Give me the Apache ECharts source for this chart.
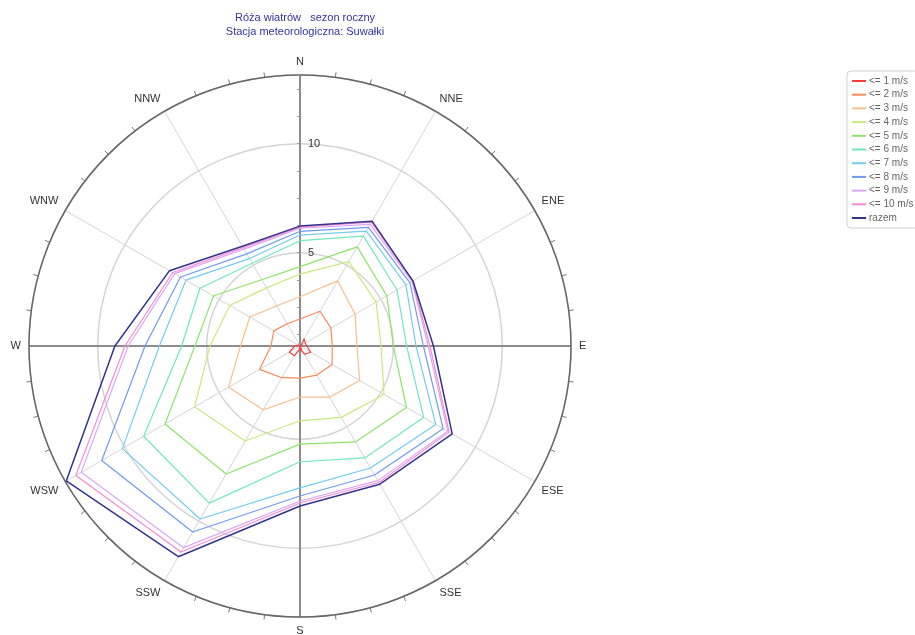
<!DOCTYPE html>
<html><head><meta charset="utf-8">
<script src="https://cdn.jsdelivr.net/npm/echarts@6/dist/echarts.min.js"></script>
<style>html,body{margin:0;padding:0;background:#fff}#c{width:915px;height:635px}</style>
</head><body><div id="c"></div>
<script>
const titleLine1 = 'Róża wiatrów   sezon roczny';
const titleLine2 = 'Stacja meteorologiczna: Suwałki';
const directions = ['N','NNE','ENE','E','ESE','SSE','S','SSW','WSW','W','WNW','NNW'];
const radialTicks = [5, 10];
const seriesNames = ['<= 1 m/s','<= 2 m/s','<= 3 m/s','<= 4 m/s','<= 5 m/s','<= 6 m/s','<= 7 m/s','<= 8 m/s','<= 9 m/s','<= 10 m/s','razem'];
const v1  = [0.6, 1.1, 1.0, 1.03, 1.29, 1.16, 0.85, 1.23, 1.29, 0.95, 0.8, 0.55];
const v2  = [1.96, 2.56, 2.36, 2.2, 2.42, 2.26, 2.19, 2.4, 2.86, 2.05, 2.11, 1.9];
const v3  = [2.98, 4.17, 3.64, 3.33, 3.88, 3.43, 3.06, 4.1, 4.5, 3.45, 3.38, 2.85];
const v4  = [4.02, 5.19, 4.75, 4.44, 5.17, 4.5, 4.15, 5.75, 6.3, 4.85, 4.44, 3.8];
const v5  = [4.36, 5.97, 5.32, 5.0, 6.36, 5.8, 5.22, 7.5, 7.87, 5.54, 5.31, 4.23];
const v6  = [5.55, 6.54, 5.86, 5.61, 7.27, 6.65, 6.03, 9.04, 9.0, 6.15, 6.02, 5.1];
const v7  = [5.81, 6.8, 6.33, 6.04, 7.91, 7.18, 7.23, 9.88, 10.13, 7.17, 6.76, 5.35];
const v8  = [5.98, 7.0, 6.54, 6.38, 8.3, 7.55, 7.6, 10.57, 11.22, 7.83, 7.05, 5.6];
const v9  = [6.12, 7.16, 6.65, 6.6, 8.55, 7.85, 7.83, 11.4, 12.31, 8.6, 7.36, 5.85];
const v10 = [6.17, 7.28, 6.68, 6.68, 8.62, 7.95, 7.92, 11.63, 12.59, 8.75, 7.46, 5.93];
const vAll= [6.22, 7.33, 6.70, 6.84, 8.78, 8.04, 8.06, 11.88, 13.1, 9.21, 7.63, 6.0];
const seriesValues = [v1,v2,v3,v4,v5,v6,v7,v8,v9,v10,vAll];
const colors = ['#ff3b3b','#f78a5a','#f7bf8c','#c6ea7e','#8ee46a','#6fe8bf','#72cdf0','#6f9af0','#dba6f7','#f58ad0','#33338f'];
const rMin = 0.72, rMax = 13.15;

const step = 360 / directions.length;
function toPolar(vals){
  const pts = vals.map((v,i)=>[v, i*step]);
  pts.push([vals[0], 360]);
  return pts;
}
const chart = echarts.init(document.getElementById('c'));
const font = 'Arial, "Liberation Sans", sans-serif';
chart.setOption({
  animation:false,
  textStyle:{fontFamily:font},
  title:{text: titleLine1 + '\n' + titleLine2, left:300, top:6, textAlign:'center',
    textStyle:{fontSize:11, fontWeight:'normal', color:'#33339a', lineHeight:14, fontFamily:font}},
  legend:{orient:'vertical', left:847, top:71, data:seriesNames, icon:'rect', itemWidth:14, itemHeight:2, itemGap:3.7,
    padding:[5,5,5,5], borderColor:'#d0d0d0', borderWidth:1, borderRadius:4,
    textStyle:{fontSize:10, color:'#666', fontFamily:font, padding:[0,0,0,-2]}},
  polar:[{center:[300,346], radius:271},{center:[300,346], radius:271}],
  angleAxis:[{polarIndex:0, type:'value', min:0, max:360, interval:step, startAngle:90, clockwise:true,
      axisLine:{lineStyle:{color:'#666', width:1.5}},
      axisTick:{show:false},
      minorTick:{show:true, splitNumber:4, length:5, lineStyle:{color:'#777'}},
      axisLabel:{margin:8, fontSize:11, color:'#333', formatter:(v)=>{const i=Math.round(v/step); return i<directions.length?directions[i]:'';}},
      splitLine:{lineStyle:{color:'#d4d4d4', width:1}}},
    {polarIndex:1, type:'value', min:0, max:360, interval:90, startAngle:90, clockwise:true,
      axisLine:{show:false}, axisTick:{show:false}, axisLabel:{show:false},
      splitLine:{lineStyle:{color:'#8c8c8c', width:2}}}],
  radiusAxis:[{polarIndex:0, type:'value', min:rMin, max:rMax, splitNumber:2,
      axisLine:{show:false}, axisTick:{show:false},
      axisLabel:{showMinLabel:false, showMaxLabel:false, fontSize:11, color:'#333', margin:-8, align:'left', verticalAlign:'middle',
        formatter:(v)=> radialTicks.includes(Math.round(v*100)/100) ? String(v) : ''},
      splitLine:{lineStyle:{color:'#d4d4d4', width:1.5}}},
    {polarIndex:1, type:'value', min:rMin, max:rMax, minInterval:1.25, maxInterval:1.25,
      axisLine:{show:false}, axisTick:{show:true, length:3, lineStyle:{color:'#999'}},
      axisLabel:{show:false}, splitLine:{show:false}}],
  series: seriesNames.map((n,i)=>({name:n, type:'line', coordinateSystem:'polar', polarIndex:0,
    data: toPolar(seriesValues[i]), symbol:'none', smooth:false,
    lineStyle:{width: i===10?1.5:1.2, color:colors[i]}, itemStyle:{color:colors[i]}, z:3+i}))
});
</script></body></html>
